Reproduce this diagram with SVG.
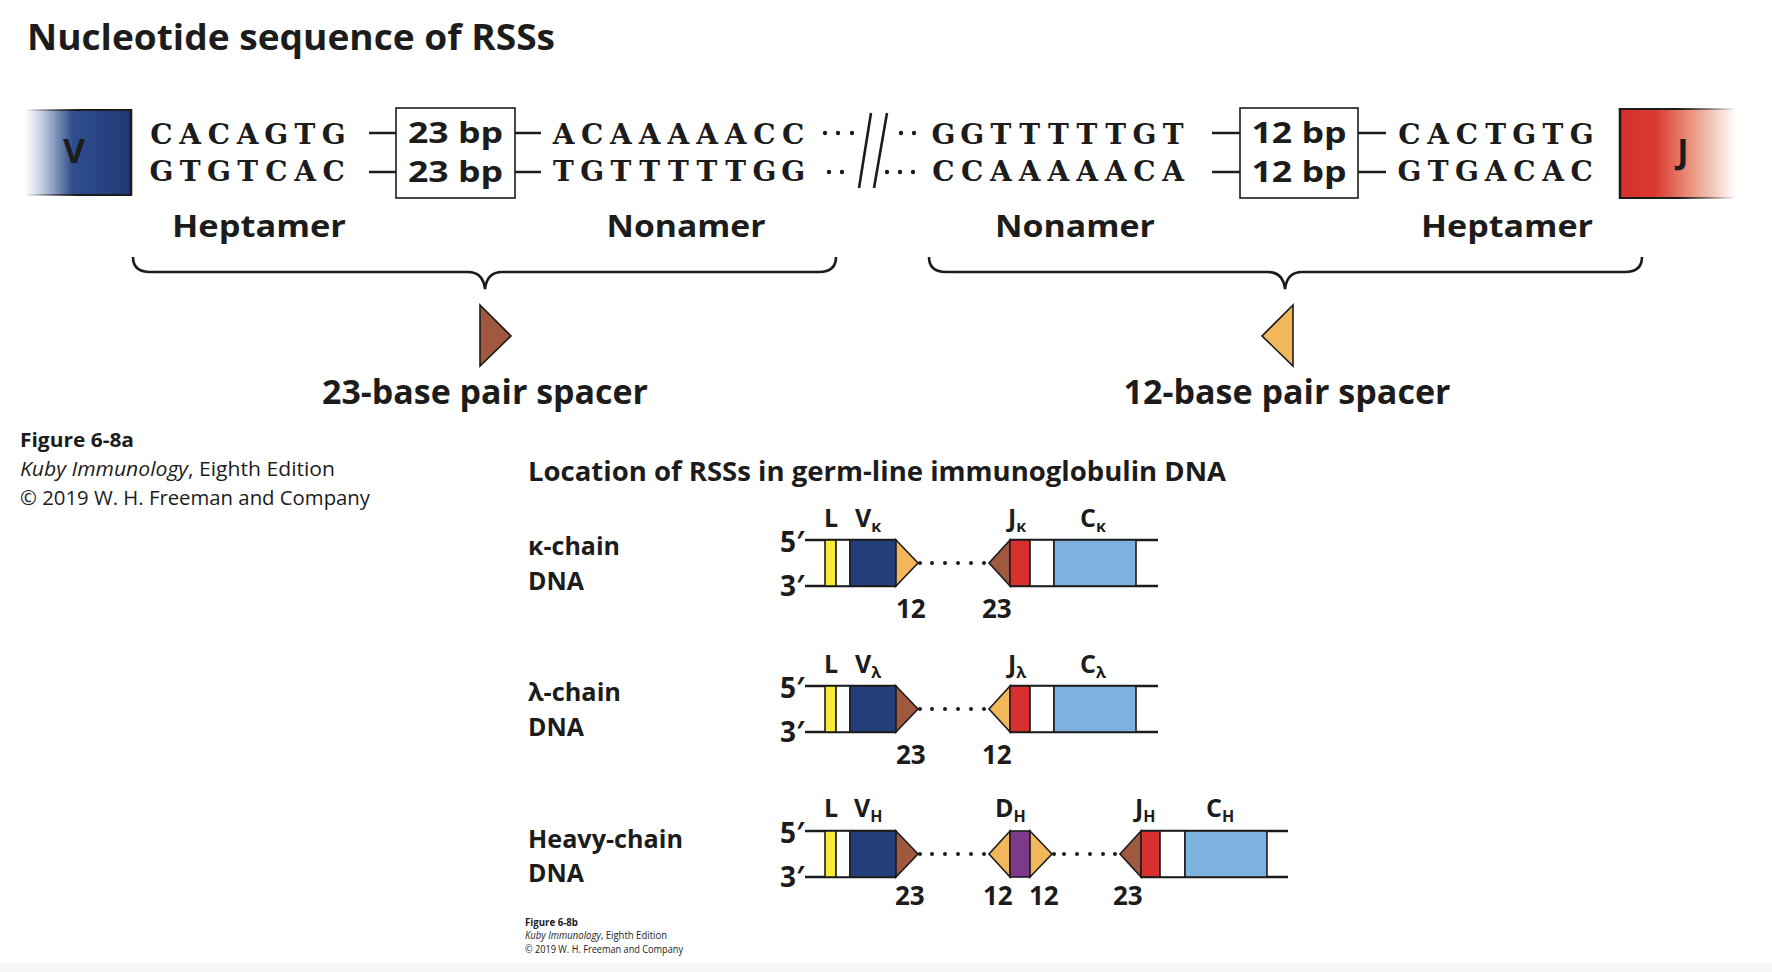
<svg xmlns="http://www.w3.org/2000/svg" width="1772" height="972" viewBox="0 0 1772 972">
<style>
.t{font-family:'Open Sans',Lato,'DejaVu Sans',sans-serif;font-weight:700;fill:#1c1c1c}
.r{font-family:'Open Sans',Lato,'DejaVu Sans',sans-serif;font-weight:400;fill:#1c1c1c}
.seq{font-family:'DejaVu Serif','Liberation Serif',serif;font-weight:700;font-size:28px;fill:#1c1c1c;text-anchor:middle}
.ln{stroke:#1c1c1c;stroke-width:2.6;fill:none}
.bx{stroke:#1c1c1c;stroke-width:1.6}
.dot{fill:#1c1c1c}
.yel{fill:#f9ea3a}.wht{fill:#ffffff}.blu{fill:#233e7b}.org{fill:#f2b75b}.brn{fill:#a0583e}.red{fill:#d7312f}.lbl{fill:#7db2de}.pur{fill:#7d3a8b}
.lab{font-size:25px}
.sub{font-size:16px}
.num{font-size:26px}
.pr{font-size:28px}
</style>
<defs>
<linearGradient id="gV" gradientUnits="userSpaceOnUse" x1="25" y1="0" x2="131" y2="0">
<stop offset="0" stop-color="#ffffff"/><stop offset="0.15" stop-color="#c9d2e4"/><stop offset="0.45" stop-color="#2f4d8d"/><stop offset="1" stop-color="#1f3a76"/>
</linearGradient>
<linearGradient id="gVs" gradientUnits="userSpaceOnUse" x1="25" y1="0" x2="131" y2="0">
<stop offset="0" stop-color="#1c1c1c" stop-opacity="0"/><stop offset="0.5" stop-color="#1c1c1c" stop-opacity="1"/><stop offset="1" stop-color="#1c1c1c"/>
</linearGradient>
<linearGradient id="gJ" gradientUnits="userSpaceOnUse" x1="1620" y1="0" x2="1736" y2="0">
<stop offset="0" stop-color="#d6302d"/><stop offset="0.3" stop-color="#d9392f"/><stop offset="0.65" stop-color="#ec9f89"/><stop offset="1" stop-color="#ffffff"/>
</linearGradient>
<linearGradient id="gJs" gradientUnits="userSpaceOnUse" x1="1620" y1="0" x2="1736" y2="0">
<stop offset="0" stop-color="#1c1c1c"/><stop offset="0.5" stop-color="#1c1c1c"/><stop offset="1" stop-color="#1c1c1c" stop-opacity="0"/>
</linearGradient>
</defs>
<rect x="0" y="0" width="1772" height="972" fill="#ffffff"/>
<rect x="0" y="963" width="1772" height="9" fill="#f6f6f6"/>

<g id="title"><text class="t" x="27" y="50" font-size="35" textLength="528" lengthAdjust="spacingAndGlyphs">Nucleotide sequence of RSSs</text></g>

<g id="v-segment">
<rect x="25" y="110" width="106" height="85" fill="url(#gV)"/>
<path d="M25,110 H131 M25,195 H131" stroke="url(#gVs)" stroke-width="2" fill="none"/>
<path d="M131,109 V196" class="ln" stroke-width="2"/>
<text class="t" x="74" y="163" font-size="34" text-anchor="middle">V</text>
</g>

<g id="j-segment">
<rect x="1620" y="109" width="116" height="89" fill="url(#gJ)"/>
<path d="M1620,109 H1736 M1620,198 H1736" stroke="url(#gJs)" stroke-width="2" fill="none"/>
<path d="M1620,108 V199" class="ln" stroke-width="2"/>
<text class="t" x="1683" y="163" font-size="34" text-anchor="middle">J</text>
</g>

<g id="seq-heptamer-left">
<text class="seq" x="161.5 190.2 218.9 247.6 276.3 305 333.7" y="144">CACAGTG</text>
<text class="seq" x="161.5 190.2 218.9 247.6 276.3 305 333.7" y="181">GTGTCAC</text>
</g>
<g id="spacer-23bp">
<rect x="396" y="108" width="119" height="90" fill="#ffffff" class="bx" stroke-width="2"/>
<text class="t" x="455.5" y="143" font-size="28" text-anchor="middle" textLength="95" lengthAdjust="spacingAndGlyphs">23 bp</text>
<text class="t" x="455.5" y="182" font-size="28" text-anchor="middle" textLength="95" lengthAdjust="spacingAndGlyphs">23 bp</text>
</g>
<g id="seq-nonamer-left">
<text class="seq" x="563.5 592.2 620.9 649.6 678.3 707 735.7 764.4 793.1" y="144">ACAAAAACC</text>
<text class="seq" x="563.5 592.2 620.9 649.6 678.3 707 735.7 764.4 793.1" y="181">TGTTTTTGG</text>
</g>
<g id="seq-nonamer-right">
<text class="seq" x="943.5 972.2 1000.9 1029.6 1058.3 1087 1115.7 1144.4 1173.1" y="144">GGTTTTTGT</text>
<text class="seq" x="943.5 972.2 1000.9 1029.6 1058.3 1087 1115.7 1144.4 1173.1" y="181">CCAAAAACA</text>
</g>
<g id="spacer-12bp">
<rect x="1240" y="108" width="118" height="90" fill="#ffffff" class="bx" stroke-width="2"/>
<text class="t" x="1299" y="143" font-size="28" text-anchor="middle" textLength="95" lengthAdjust="spacingAndGlyphs">12 bp</text>
<text class="t" x="1299" y="182" font-size="28" text-anchor="middle" textLength="95" lengthAdjust="spacingAndGlyphs">12 bp</text>
</g>
<g id="seq-heptamer-right">
<text class="seq" x="1409.5 1438.2 1466.9 1495.6 1524.3 1553 1581.7" y="144">CACTGTG</text>
<text class="seq" x="1409.5 1438.2 1466.9 1495.6 1524.3 1553 1581.7" y="181">GTGACAC</text>
</g>

<g id="connectors-top">
<path class="ln" d="M369,133 H396 M369,172 H396 M515,133 H541 M515,172 H541 M1212,133 H1240 M1212,172 H1240 M1358,133 H1386 M1358,172 H1386"/>
<path class="ln" stroke-width="3" d="M871,113 L859,188 M887,113 L874,188"/>
<g class="dot">
<circle cx="825" cy="133" r="2.2"/><circle cx="838" cy="133" r="2.2"/><circle cx="852" cy="133" r="2.2"/>
<circle cx="829" cy="172" r="2.2"/><circle cx="842" cy="172" r="2.2"/>
<circle cx="901" cy="133" r="2.2"/><circle cx="914" cy="133" r="2.2"/>
<circle cx="887" cy="172" r="2.2"/><circle cx="900" cy="172" r="2.2"/><circle cx="913" cy="172" r="2.2"/>
</g>
<path class="ln" d="M133,257 Q133,272 150,272 L468,272 Q483,272 485,289 Q487,272 502,272 L819,272 Q836,272 836,257"/>
<path class="ln" d="M929,257 Q929,272 946,272 L1268,272 Q1283,272 1285,289 Q1287,272 1302,272 L1625,272 Q1642,272 1642,257"/>
</g>

<g id="labels-top">
<text class="t" x="259" y="237" font-size="30" text-anchor="middle" textLength="174" lengthAdjust="spacingAndGlyphs">Heptamer</text>
<text class="t" x="686" y="237" font-size="30" text-anchor="middle" textLength="159" lengthAdjust="spacingAndGlyphs">Nonamer</text>
<text class="t" x="1075" y="237" font-size="30" text-anchor="middle" textLength="160" lengthAdjust="spacingAndGlyphs">Nonamer</text>
<text class="t" x="1507" y="237" font-size="30" text-anchor="middle" textLength="172" lengthAdjust="spacingAndGlyphs">Heptamer</text>
</g>

<g id="spacer23-marker">
<polygon points="480,305 511,336 480,366" class="brn bx"/>
<text class="t" x="485" y="404" font-size="34" text-anchor="middle" textLength="326" lengthAdjust="spacingAndGlyphs">23-base pair spacer</text>
</g>
<g id="spacer12-marker">
<polygon points="1293,305 1262,336 1293,366" class="org bx"/>
<text class="t" x="1287" y="404" font-size="34" text-anchor="middle" textLength="327" lengthAdjust="spacingAndGlyphs">12-base pair spacer</text>
</g>

<g id="credit-a">
<text class="t" x="20" y="447" font-size="20" textLength="114" lengthAdjust="spacingAndGlyphs">Figure 6-8a</text>
<text class="r" x="20" y="476" font-size="20" textLength="315" lengthAdjust="spacingAndGlyphs"><tspan font-style="italic">Kuby Immunology</tspan>, Eighth Edition</text>
<text class="r" x="20" y="505" font-size="20" textLength="350" lengthAdjust="spacingAndGlyphs">© 2019 W. H. Freeman and Company</text>
</g>

<g id="subtitle"><text class="t" x="528" y="481" font-size="26" textLength="698" lengthAdjust="spacingAndGlyphs">Location of RSSs in germ-line immunoglobulin DNA</text></g>

<g id="kappa-label">
<text class="t" x="528" y="555" font-size="25" textLength="92" lengthAdjust="spacingAndGlyphs">κ-chain</text>
<text class="t" x="528" y="590" font-size="25" textLength="56" lengthAdjust="spacingAndGlyphs">DNA</text>
</g>
<g id="lambda-label">
<text class="t" x="528" y="701" font-size="25" textLength="93" lengthAdjust="spacingAndGlyphs">λ-chain</text>
<text class="t" x="528" y="736" font-size="25" textLength="56" lengthAdjust="spacingAndGlyphs">DNA</text>
</g>
<g id="heavy-label">
<text class="t" x="528" y="848" font-size="25" textLength="155" lengthAdjust="spacingAndGlyphs">Heavy-chain</text>
<text class="t" x="528" y="882" font-size="25" textLength="56" lengthAdjust="spacingAndGlyphs">DNA</text>
</g>

<g id="kappa-row" transform="translate(0,540)">
<path class="ln" d="M805,0 H896 M805,46 H896 M1010,0 H1158 M1010,46 H1158"/>
<rect x="825" y="0" width="11" height="46" class="yel bx"/>
<rect x="836" y="0" width="14" height="46" class="wht bx"/>
<rect x="850" y="0" width="46" height="46" class="blu bx"/>
<polygon points="896,0 918,23 896,46" class="org bx"/>
<polygon points="1010,0 989,23 1010,46" class="brn bx"/>
<rect x="1010" y="0" width="20" height="46" class="red bx"/>
<rect x="1030" y="0" width="24" height="46" class="wht bx"/>
<rect x="1054" y="0" width="82" height="46" class="lbl bx"/>
<g class="dot"><circle cx="920" cy="23" r="2"/><circle cx="932" cy="23" r="2"/><circle cx="945" cy="23" r="2"/><circle cx="958" cy="23" r="2"/><circle cx="971" cy="23" r="2"/><circle cx="984" cy="23" r="2"/></g>
<text class="t pr" x="780" y="12">5′</text>
<text class="t pr" x="780" y="56">3′</text>
<text class="t lab" x="831" y="-13" text-anchor="middle">L</text>
<text class="t lab" x="855" y="-13">V<tspan class="sub" dy="5">κ</tspan></text>
<text class="t lab" x="1008" y="-13">J<tspan class="sub" dy="5">κ</tspan></text>
<text class="t lab" x="1080" y="-13">C<tspan class="sub" dy="5">κ</tspan></text>
<text class="t num" x="896" y="78">12</text>
<text class="t num" x="982" y="78">23</text>
</g>

<g id="lambda-row" transform="translate(0,686)">
<path class="ln" d="M805,0 H896 M805,46 H896 M1010,0 H1158 M1010,46 H1158"/>
<rect x="825" y="0" width="11" height="46" class="yel bx"/>
<rect x="836" y="0" width="14" height="46" class="wht bx"/>
<rect x="850" y="0" width="46" height="46" class="blu bx"/>
<polygon points="896,0 918,23 896,46" class="brn bx"/>
<polygon points="1010,0 989,23 1010,46" class="org bx"/>
<rect x="1010" y="0" width="20" height="46" class="red bx"/>
<rect x="1030" y="0" width="24" height="46" class="wht bx"/>
<rect x="1054" y="0" width="82" height="46" class="lbl bx"/>
<g class="dot"><circle cx="920" cy="23" r="2"/><circle cx="932" cy="23" r="2"/><circle cx="945" cy="23" r="2"/><circle cx="958" cy="23" r="2"/><circle cx="971" cy="23" r="2"/><circle cx="984" cy="23" r="2"/></g>
<text class="t pr" x="780" y="12">5′</text>
<text class="t pr" x="780" y="56">3′</text>
<text class="t lab" x="831" y="-13" text-anchor="middle">L</text>
<text class="t lab" x="855" y="-13">V<tspan class="sub" dy="5">λ</tspan></text>
<text class="t lab" x="1008" y="-13">J<tspan class="sub" dy="5">λ</tspan></text>
<text class="t lab" x="1080" y="-13">C<tspan class="sub" dy="5">λ</tspan></text>
<text class="t num" x="896" y="78">23</text>
<text class="t num" x="982" y="78">12</text>
</g>

<g id="heavy-row" transform="translate(0,831)">
<path class="ln" d="M805,0 H896 M805,46 H896 M1141,0 H1288 M1141,46 H1288"/>
<rect x="825" y="0" width="11" height="46" class="yel bx"/>
<rect x="836" y="0" width="14" height="46" class="wht bx"/>
<rect x="850" y="0" width="46" height="46" class="blu bx"/>
<polygon points="896,0 918,23 896,46" class="brn bx"/>
<polygon points="1010,0 989,23 1010,46" class="org bx"/>
<rect x="1010" y="0" width="20" height="46" class="pur bx"/>
<polygon points="1030,0 1052,23 1030,46" class="org bx"/>
<polygon points="1141,0 1120,23 1141,46" class="brn bx"/>
<rect x="1141" y="0" width="19" height="46" class="red bx"/>
<rect x="1160" y="0" width="25" height="46" class="wht bx"/>
<rect x="1185" y="0" width="82" height="46" class="lbl bx"/>
<g class="dot"><circle cx="920" cy="23" r="2"/><circle cx="932" cy="23" r="2"/><circle cx="945" cy="23" r="2"/><circle cx="958" cy="23" r="2"/><circle cx="971" cy="23" r="2"/><circle cx="984" cy="23" r="2"/>
<circle cx="1054" cy="23" r="2"/><circle cx="1064" cy="23" r="2"/><circle cx="1077" cy="23" r="2"/><circle cx="1090" cy="23" r="2"/><circle cx="1103" cy="23" r="2"/><circle cx="1115" cy="23" r="2"/></g>
<text class="t pr" x="780" y="12">5′</text>
<text class="t pr" x="780" y="56">3′</text>
<text class="t lab" x="831" y="-14" text-anchor="middle">L</text>
<text class="t lab" x="854" y="-14">V<tspan class="sub" dy="5">H</tspan></text>
<text class="t lab" x="995" y="-14">D<tspan class="sub" dy="5">H</tspan></text>
<text class="t lab" x="1135" y="-14">J<tspan class="sub" dy="5">H</tspan></text>
<text class="t lab" x="1206" y="-14">C<tspan class="sub" dy="5">H</tspan></text>
<text class="t num" x="895" y="74">23</text>
<text class="t num" x="983" y="74">12</text>
<text class="t num" x="1029" y="74">12</text>
<text class="t num" x="1113" y="74">23</text>
</g>

<g id="credit-b">
<text class="t" x="525" y="926" font-size="10" textLength="53" lengthAdjust="spacingAndGlyphs">Figure 6-8b</text>
<text class="r" x="525" y="939" font-size="10" textLength="142" lengthAdjust="spacingAndGlyphs"><tspan font-style="italic">Kuby Immunology</tspan>, Eighth Edition</text>
<text class="r" x="525" y="953" font-size="10" textLength="158" lengthAdjust="spacingAndGlyphs">© 2019 W. H. Freeman and Company</text>
</g>
</svg>
